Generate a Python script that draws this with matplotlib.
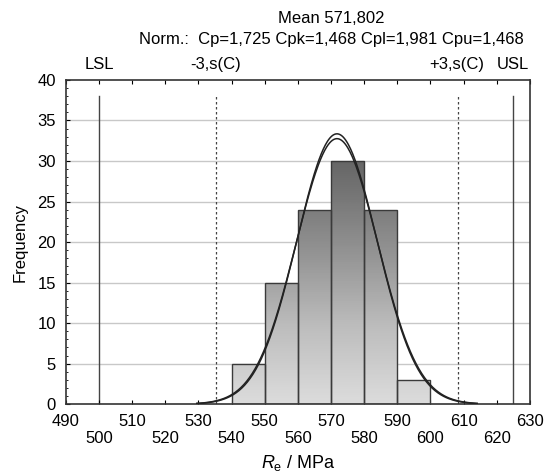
import numpy as np
import matplotlib
matplotlib.use("Agg")
import matplotlib.pyplot as plt
from matplotlib.patches import Rectangle

plt.rcParams['font.family'] = ['Liberation Sans', 'DejaVu Sans']
plt.rcParams['mathtext.fontset'] = 'custom'
plt.rcParams['mathtext.rm'] = 'Liberation Sans'
plt.rcParams['mathtext.it'] = 'Liberation Sans:italic'

# data
bin_left = [540, 550, 560, 570, 580, 590]
counts = [5, 15, 24, 30, 24, 3]
bin_width = 10
mean = 571.802
sigma_within = 12.08
sigma_overall = 12.30
lsl, usl = 500, 625
minus3s, plus3s = 535.2, 608.4
n_total = sum(counts)

fs = 12

fig = plt.figure(figsize=(5.48, 4.76), dpi=100)
ax = fig.add_axes([0.120, 0.151, 0.847, 0.681])
ax.set_xlim(490, 630)
ax.set_ylim(0, 40)

# horizontal grid
for y in range(5, 40, 5):
    ax.axhline(y, color='#c8c8c8', lw=1.0, zorder=0)

# gradient bars
for x0, c in zip(bin_left, counts):
    rect = Rectangle((x0, 0), bin_width, c, fill=False, edgecolor='#3a3a3a', lw=1.0, zorder=3)
    ax.add_patch(rect)
    vals = np.linspace(0, c, 256).reshape(-1, 1)
    im = ax.imshow(vals, extent=[x0, x0 + bin_width, 0, c], origin='lower', aspect='auto',
                   cmap='Greys', vmin=-16, vmax=52, zorder=2)
    im.set_clip_path(rect)

# fitted normal curves
xs = np.linspace(mean - 3.5 * sigma_within, mean + 3.5 * sigma_within, 400)
for s in (sigma_within, sigma_overall):
    ys = n_total * bin_width / (s * np.sqrt(2 * np.pi)) * np.exp(-0.5 * ((xs - mean) / s) ** 2)
    ax.plot(xs, ys, color='#222222', lw=1.1, zorder=4)

# spec limits
ax.plot([lsl, lsl], [0, 38], color='#444444', lw=1.0, zorder=1)
ax.plot([usl, usl], [0, 38], color='#444444', lw=1.0, zorder=1)
ax.plot([minus3s, minus3s], [0, 38], color='#444444', lw=0.9, ls=(0, (2, 2)), zorder=1)
ax.plot([plus3s, plus3s], [0, 38], color='#444444', lw=0.9, ls=(0, (2, 2)), zorder=1)

# ticks
xt = list(range(490, 631, 10))
ax.set_xticks(xt)
ax.set_xticklabels([str(v) if i % 2 == 0 else '\n' + str(v) for i, v in enumerate(xt)], fontsize=fs)
ax.set_yticks(range(0, 41, 5))
ax.set_yticks(np.arange(0, 40, 1), minor=True)
ax.tick_params(axis='x', direction='in', top=True, length=3, pad=7)
ax.tick_params(axis='y', which='major', direction='in', length=3, labelsize=fs, pad=7)
ax.tick_params(axis='y', which='minor', direction='in', length=1.5)
for sp in ax.spines.values():
    sp.set_linewidth(1.2)
    sp.set_color('#333333')

ax.set_ylabel('Frequency', fontsize=fs, labelpad=7)
ax.set_xlabel(r'$R_\mathrm{e}$ / MPa', fontsize=fs + 1, labelpad=5)

# labels above the plot
trans = ax.get_xaxis_transform()
ax.text(lsl, 1.047, 'LSL', transform=trans, ha='center', va='center', fontsize=fs)
ax.text(minus3s, 1.047, '-3,s(C)', transform=trans, ha='center', va='center', fontsize=fs)
ax.text(plus3s - 0.5, 1.047, '+3,s(C)', transform=trans, ha='center', va='center', fontsize=fs)
ax.text(usl, 1.047, 'USL', transform=trans, ha='center', va='center', fontsize=fs)
fig.text(0.604, 0.916, 'Norm.:  Cp=1,725 Cpk=1,468 Cpl=1,981 Cpu=1,468', ha='center', va='center', fontsize=fs)
fig.text(0.604, 0.962, 'Mean 571,802', ha='center', va='center', fontsize=fs)

fig.savefig('out.png', dpi=100)
